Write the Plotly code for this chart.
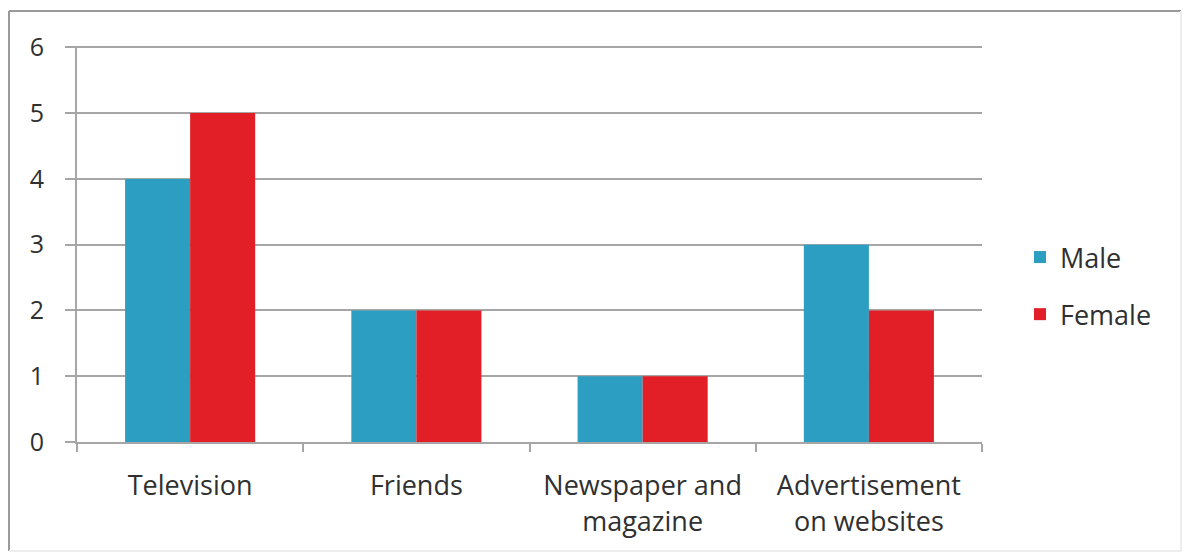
import plotly.graph_objects as go

categories = ["Television", "Friends", "Newspaper and<br>magazine", "Advertisement<br>on websites"]
male = [4, 2, 1, 3]
female = [5, 2, 1, 2]
y_ticks = [0, 1, 2, 3, 4, 5, 6]

W, H = 1183, 559
L, R, T, B = 77, 201, 46, 117
pw, ph = W - L - R, H - T - B

def px(x):
    return (x - L) / pw

def py(y):
    return (H - B - y) / ph

FONT = "Open Sans"
TXT = "#303030"
GRID = "#a6a6a6"

fig = go.Figure()
fig.add_trace(go.Bar(name="Male", x=categories, y=male, marker_color="#2b9ec2",
                     marker_line_width=0, legendgroup="m"))
fig.add_trace(go.Bar(name="Female", x=categories, y=female, marker_color="#e21e26",
                     marker_line_width=0, legendgroup="f"))

frame = [
    dict(x0=px(9), x1=px(1181), y0=py(11), y1=py(11), c="#9a9a9a"),
    dict(x0=px(9), x1=px(9), y0=py(11), y1=py(551), c="#9a9a9a"),
    dict(x0=px(1181), x1=px(1181), y0=py(11), y1=py(551), c="#ededed"),
    dict(x0=px(9), x1=px(1181), y0=py(551), y1=py(551), c="#ededed"),
]

fig.update_layout(
    width=W, height=H,
    margin=dict(l=L, r=R, t=T, b=B),
    paper_bgcolor="white", plot_bgcolor="white",
    barmode="group", bargap=0.425, bargroupgap=0,
    font=dict(family=FONT, size=27, color=TXT),
    legend=dict(x=px(1020), y=py(286), xanchor="left", yanchor="middle",
                font=dict(size=27, color=TXT), tracegroupgap=19,
                traceorder="grouped", itemwidth=30),
    showlegend=True,
    shapes=[dict(type="line", xref="paper", yref="paper",
                 x0=f["x0"], x1=f["x1"], y0=f["y0"], y1=f["y1"],
                 line=dict(color=f["c"], width=2), layer="below") for f in frame],
)
fig.update_xaxes(showline=True, linecolor=GRID, linewidth=2,
                 ticks="outside", tickson="boundaries", ticklen=8, tickwidth=2,
                 tickcolor=GRID, showgrid=False, ticklabelstandoff=19,
                 tickfont=dict(size=27, color=TXT))
fig.update_yaxes(range=[0, 6.02], tickvals=y_ticks, showline=True, linecolor=GRID,
                 linewidth=2, ticks="outside", ticklen=10, tickwidth=2, tickcolor=GRID,
                 showgrid=True, gridcolor=GRID, gridwidth=2, zeroline=False,
                 ticklabelstandoff=16, tickfont=dict(size=25, color=TXT))

fig.write_html("out.html")
